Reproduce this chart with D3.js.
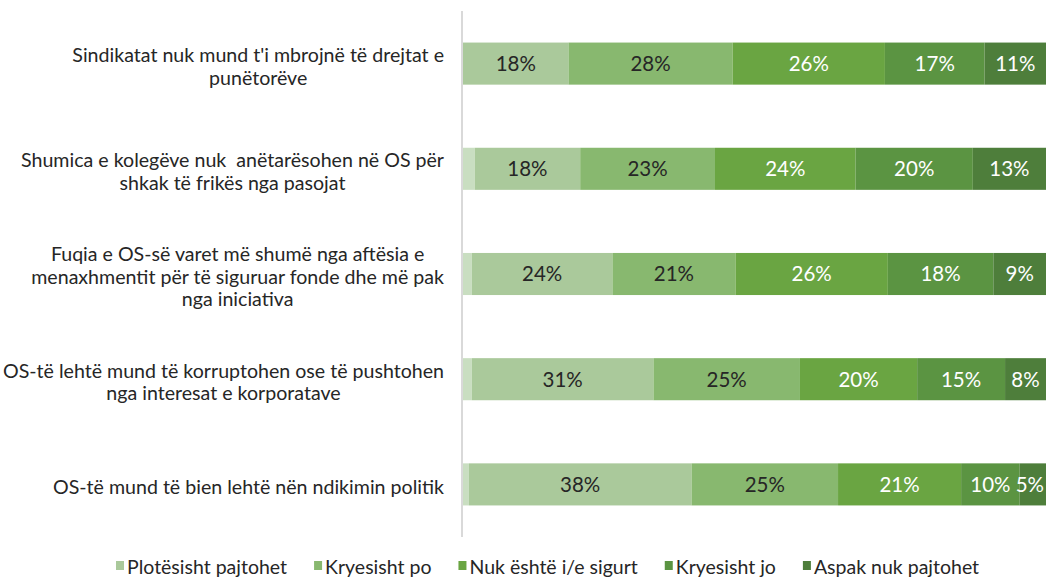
<!DOCTYPE html>
<html>
<head>
<meta charset="utf-8">
<script src="https://cdn.jsdelivr.net/npm/d3@7"></script>
<style>
  html, body { margin: 0; padding: 0; background: #fff; }
  svg { display: block; font-family: Lato, "Noto Sans", sans-serif; }
</style>
</head>
<body>
<svg id="chart" width="1046" height="580"></svg>
<script>
// Statements (one bar each), top to bottom
const statements = [
  ["Sindikatat nuk mund t'i mbrojnë të drejtat e", "punëtorëve"],
  ["Shumica e kolegëve nuk  anëtarësohen në OS për", "shkak të frikës nga pasojat"],
  ["Fuqia e OS-së varet më shumë nga aftësia e", "menaxhmentit për të siguruar fonde dhe më pak", "nga iniciativa"],
  ["OS-të lehtë mund të korruptohen ose të pushtohen", "nga interesat e korporatave"],
  ["OS-të mund të bien lehtë nën ndikimin politik"]
];

// Response options shown in the legend
const seriesNames = ["Plotësisht pajtohet", "Kryesisht po", "Nuk është i/e sigurt", "Kryesisht jo", "Aspak nuk pajtohet"];

// Share of respondents (%) per statement
const noAnswer     = [0, 2, 1.5, 1.5, 1];   // small unlabelled remainder at the start
const fullyAgree   = [18, 18, 24, 31, 38];
const mostlyYes    = [28, 23, 21, 25, 25];
const notSure      = [26, 24, 26, 20, 21];
const mostlyNo     = [17, 20, 18, 15, 10];
const notAtAll     = [11, 13, 9, 8, 5];

const colors = ["#c9dec1", "#aac99b", "#88b86f", "#6aa542", "#5b9442", "#4e7e3b"];
const labelColors = [null, "#262626", "#262626", "#ffffff", "#ffffff", "#ffffff"];

const seriesValues = [noAnswer, fullyAgree, mostlyYes, notSure, mostlyNo, notAtAll];

const W = 1046;
const svg = d3.select("#chart");

const x = d3.scaleLinear().domain([0, 100]).range([463, 1049]);
const y = d3.scaleBand()
  .domain(d3.range(statements.length))
  .range([11, 537])
  .paddingInner(0.6)
  .paddingOuter(0.3);

// Build stacked segments
const rows = statements.map((s, i) => {
  let acc = 0;
  return seriesValues.map((vals, k) => {
    const seg = { row: i, k, v: vals[i], x0: acc, x1: acc + vals[i] };
    acc += vals[i];
    return seg;
  });
});
const segments = rows.flat().filter(d => d.v > 0);

const bars = svg.append("g");
bars.selectAll("rect")
  .data(segments)
  .join("rect")
  .attr("x", d => x(d.x0))
  .attr("y", d => y(d.row))
  .attr("width", d => x(d.x1) - x(d.x0))
  .attr("height", y.bandwidth())
  .attr("fill", d => colors[d.k]);

// Segment value labels (kept inside the visible area at the right end)
bars.selectAll("text")
  .data(segments.filter(d => d.k > 0))
  .join("text")
  .attr("y", d => y(d.row) + y.bandwidth() / 2)
  .attr("dy", "0.36em")
  .attr("text-anchor", "middle")
  .attr("font-size", 20.5)
  .attr("fill", d => labelColors[d.k])
  .text(d => d.v + "%")
  .each(function (d) {
    const w = this.getComputedTextLength();
    const cx = (x(d.x0) + Math.min(x(d.x1), W)) / 2;
    d3.select(this).attr("x", Math.min(cx, W - 2 - w / 2));
  });

// Vertical category axis line
svg.append("line")
  .attr("x1", 462).attr("x2", 462)
  .attr("y1", 11).attr("y2", 537)
  .attr("stroke", "#d9d9d9")
  .attr("stroke-width", 2);

// Category labels: each block right-aligned, lines centred within the block
const catG = svg.append("g").attr("font-size", 19.6).attr("fill", "#262626");
const lineH = 22.5;
statements.forEach((lines, i) => {
  const g = catG.append("g");
  const cy = y(i) + y.bandwidth() / 2 + 3;
  const texts = lines.map((ln, j) =>
    g.append("text")
      .style("white-space", "pre")
      .attr("text-anchor", "middle")
      .attr("y", cy + (j - (lines.length - 1) / 2) * lineH)
      .attr("dy", "0.35em")
      .text(ln)
  );
  const maxW = d3.max(texts, t => t.node().getComputedTextLength());
  texts.forEach(t => t.attr("x", 444 - maxW / 2));
});

// Legend
const legend = svg.append("g").attr("font-size", 19.5).attr("fill", "#262626");
let lx = 116;
seriesNames.forEach((name, i) => {
  legend.append("rect")
    .attr("x", lx).attr("y", 561)
    .attr("width", 8).attr("height", 9)
    .attr("fill", colors[i + 1]);
  const t = legend.append("text")
    .attr("x", lx + 11).attr("y", 567)
    .attr("dy", "0.35em")
    .text(name);
  lx += 11 + t.node().getComputedTextLength() + 27;
});
</script>
</body>
</html>
